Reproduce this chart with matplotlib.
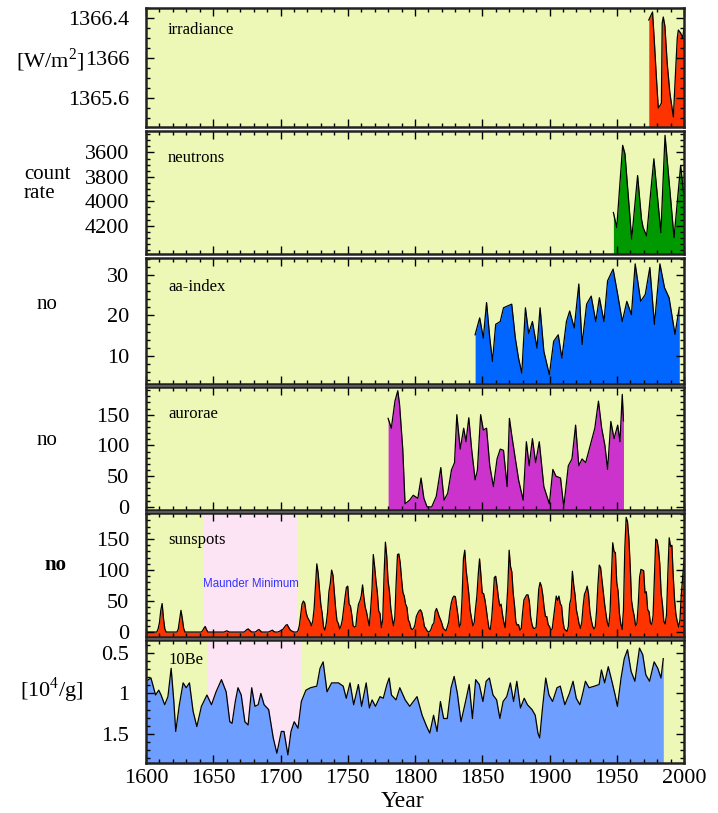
import matplotlib
matplotlib.use("Agg")
import matplotlib.pyplot as plt
from matplotlib.ticker import MultipleLocator, FixedLocator

plt.rcParams["font.family"] = ["Liberation Serif", "DejaVu Serif"]

# --- solar irradiance [W/m^2] ---
irr_years = [1973.8, 1976.6, 1977.8, 1979.5, 1980.9, 1982.0, 1983.2, 1983.8, 1984.6,
             1985.8, 1987.5, 1989.5, 1992.1, 1993.5, 1995.0, 1995.8, 1997.5, 1999.0, 2000.0]
irr_vals = [1366.38, 1366.46, 1366.20, 1365.80, 1365.50, 1365.52, 1365.55, 1366.35, 1366.41,
            1366.32, 1365.95, 1365.65, 1365.41, 1365.80, 1366.20, 1366.28, 1366.25, 1366.20, 1366.30]

# --- neutron monitor count rate ---
neu_years = [1947.5, 1950.0, 1954.4, 1956.1, 1961.1, 1965.5, 1968.4, 1969.6, 1972.2,
             1977.6, 1982.8, 1985.9, 1992.6, 1997.5, 2000.0]
neu_vals = [4091, 4214, 3542, 3611, 4309, 3789, 4145, 4214, 4282,
            3652, 4255, 3460, 4296, 3707, 3967]

# --- aa-index ---
aa_years = [1844.7, 1848.1, 1850.8, 1853.2, 1855.6, 1857.6, 1860.0, 1863.4, 1865.8, 1868.5,
            1871.9, 1874.6, 1877.0, 1879.4, 1882.1, 1884.5, 1887.3, 1890.7, 1893.0, 1895.8,
            1899.9, 1903.1, 1906.5, 1909.2, 1912.6, 1915.0, 1918.4, 1921.8, 1924.2, 1927.6,
            1931.0, 1934.4, 1937.1, 1940.5, 1943.2, 1947.3, 1950.7, 1954.1, 1957.5, 1960.9,
            1963.7, 1967.8, 1971.2, 1974.6, 1978.0, 1982.1, 1985.5, 1988.9, 1993.3, 1996.5]
aa_vals = [15.2, 19.4, 14.4, 23.2, 14.4, 8.6, 17.8, 18.5, 21.9, 22.3,
           22.8, 14.4, 9.4, 5.7, 21.9, 15.5, 18.5, 11.9, 21.9, 11.1,
           5.3, 13.6, 15.2, 9.4, 18.5, 21.1, 16.9, 27.8, 12.8, 22.8,
           24.8, 18.5, 24.4, 18.5, 28.6, 31.5, 25.2, 18.5, 23.5, 20.2,
           32.8, 23.5, 25.2, 31.9, 17.8, 32.8, 26.9, 24.4, 15.3, 22.0]

# --- aurorae (number per year) ---
aur_years = [1780.0, 1782.4, 1785.1, 1787.2, 1788.5, 1790.9, 1792.6, 1796.0, 1798.7, 1802.1,
             1804.5, 1806.6, 1809.0, 1812.4, 1815.8, 1819.2, 1821.6, 1824.3, 1827.1, 1829.4,
             1831.1, 1833.6, 1836.2, 1837.9, 1840.0, 1842.1, 1844.7, 1846.4, 1848.8, 1850.8,
             1853.2, 1855.6, 1858.3, 1861.0, 1863.4, 1865.8, 1868.5, 1870.2, 1871.9, 1874.6,
             1877.0, 1880.4, 1882.8, 1884.9, 1887.3, 1889.7, 1892.4, 1895.8, 1899.9, 1902.5,
             1904.8, 1908.2, 1910.6, 1914.0, 1916.7, 1919.4, 1921.8, 1924.2, 1926.9, 1930.3,
             1933.7, 1936.4, 1938.8, 1941.2, 1943.2, 1945.6, 1948.0, 1950.7, 1952.4, 1954.1,
             1955.0]
aur_vals = [144, 128, 172, 189, 167, 94, 5, 11, 19, 14,
            47, 14, 0, 0, 17, 64, 11, 22, 60, 72,
            150, 94, 128, 106, 145, 94, 44, 60, 150, 125,
            128, 67, 33, 78, 94, 92, 33, 144, 117, 78,
            44, 11, 106, 67, 111, 72, 106, 33, 5, 61,
            50, 47, 0, 67, 78, 133, 67, 78, 72, 100,
            128, 172, 128, 100, 61, 139, 111, 133, 106, 183,
            140]

# --- annual sunspot number, 1600-2000 ---
ssn_start = 1600
ssn_vals = [
    0, 0, 0, 0, 0, 0, 0, 0, 0, 5,
    15, 35, 46, 22, 5, 0, 0, 0, 0, 0,
    0, 0, 0, 0, 5, 20, 35, 22, 6, 0,
    0, 0, 0, 0, 0, 0, 0, 0, 0, 0,
    0, 0, 2, 6, 9, 4, 0, 0, 0, 0,
    0, 0, 0, 0, 0, 0, 0, 0, 0, 1,
    2, 1, 0, 0, 0, 0, 0, 0, 0, 0,
    0, 0, 0, 0, 2, 4, 5, 3, 1, 0,
    0, 0, 1, 3, 4, 2, 0, 0, 0, 0,
    0, 0, 1, 2, 3, 1, 0, 0, 0, 1,
    2, 3, 5, 8, 11, 12, 8, 4, 2, 1,
    0, 0, 0, 2, 10, 28, 45, 50, 47, 32,
    24, 20, 16, 10, 18, 38, 75, 110, 95, 68,
    44, 30, 8, 3, 14, 32, 65, 78, 100, 92,
    66, 38, 18, 14, 5, 10, 20, 38, 56, 72,
    74, 45, 42, 28, 10, 8, 9, 30, 45, 50,
    58, 76, 56, 40, 32, 20, 10, 36, 68, 125,
    105, 82, 64, 34, 30, 7, 20, 92, 145, 122,
    82, 66, 38, 22, 10, 24, 80, 125, 126, 112,
    86, 64, 58, 45, 40, 20, 15, 6, 4, 6,
    12, 25, 30, 34, 36, 32, 22, 9, 6, 2,
    0, 1, 5, 12, 14, 33, 38, 32, 25, 20,
    14, 6, 4, 2, 8, 16, 34, 47, 55, 58,
    57, 42, 26, 8, 13, 55, 118, 132, 100, 82,
    62, 35, 23, 10, 15, 38, 58, 92, 118, 92,
    63, 62, 52, 37, 20, 6, 4, 22, 52, 88,
    90, 74, 56, 42, 45, 29, 16, 7, 36, 72,
    132, 106, 97, 63, 43, 16, 11, 12, 3, 6,
    31, 52, 56, 60, 60, 50, 24, 12, 6, 6,
    7, 34, 69, 80, 74, 60, 40, 25, 25, 12,
    9, 3, 5, 23, 40, 58, 51, 58, 46, 42,
    18, 5, 3, 1, 9, 45, 54, 98, 76, 60,
    36, 25, 13, 6, 16, 42, 61, 66, 74, 62,
    34, 20, 10, 5, 8, 34, 76, 108, 104, 84,
    64, 45, 29, 15, 9, 32, 88, 144, 130, 128,
    80, 66, 30, 13, 4, 36, 135, 185, 178, 152,
    107, 51, 36, 26, 10, 14, 45, 89, 101, 100,
    99, 63, 65, 36, 33, 15, 12, 26, 88, 150,
    148, 134, 110, 63, 44, 17, 13, 28, 95, 152,
    138, 140, 90, 52, 28, 17, 8, 20, 61, 89,
    115,
]
ssn_years = [ssn_start + i for i in range(len(ssn_vals))]

# --- 10Be concentration [10^4/g] ---
be_years = [1600.0, 1603.7, 1607.1, 1609.5, 1611.2, 1613.9, 1616.3, 1618.7, 1620.7, 1622.1,
            1624.8, 1627.6, 1629.9, 1632.3, 1635.0, 1637.8, 1641.2, 1645.3, 1648.7, 1652.1,
            1656.1, 1659.6, 1662.3, 1664.0, 1666.4, 1668.4, 1670.8, 1673.5, 1675.9, 1678.6,
            1681.0, 1683.4, 1685.4, 1687.8, 1691.2, 1694.6, 1697.3, 1700.6, 1702.6, 1705.5,
            1707.8, 1710.2, 1713.0, 1715.5, 1718.9, 1722.3, 1727.0, 1729.4, 1731.7, 1734.6,
            1738.0, 1743.1, 1746.6, 1748.9, 1751.7, 1754.4, 1757.9, 1760.3, 1763.7, 1766.1,
            1768.1, 1770.6, 1774.0, 1776.4, 1779.1, 1780.8, 1782.5, 1785.9, 1788.7, 1792.7,
            1796.1, 1801.5, 1805.3, 1808.7, 1811.0, 1813.8, 1816.4, 1818.9, 1821.3, 1824.0,
            1826.8, 1829.1, 1831.5, 1834.2, 1837.6, 1840.3, 1842.7, 1845.1, 1847.8, 1850.5,
            1852.9, 1855.3, 1858.0, 1860.7, 1863.1, 1865.5, 1868.2, 1870.9, 1873.3, 1875.7,
            1878.4, 1881.2, 1883.6, 1887.0, 1889.4, 1891.4, 1892.7, 1894.8, 1897.2, 1899.6,
            1902.3, 1905.6, 1908.0, 1911.4, 1914.8, 1917.5, 1919.9, 1922.6, 1925.0, 1926.7,
            1929.4, 1933.5, 1936.9, 1938.6, 1941.0, 1943.7, 1946.4, 1948.8, 1950.5, 1953.2,
            1955.6, 1958.0, 1960.7, 1963.5, 1966.9, 1969.3, 1971.6, 1974.4, 1977.8, 1980.5,
            1982.9, 1984.6]
be_vals = [0.85, 0.81, 1.02, 0.96, 1.02, 1.14, 1.04, 0.69, 1.10, 1.47,
           1.14, 0.87, 0.93, 0.87, 1.22, 1.41, 1.16, 1.02, 1.14, 0.98,
           0.83, 0.98, 1.35, 1.37, 1.10, 0.93, 1.02, 1.35, 1.39, 0.93,
           1.16, 1.14, 1.00, 1.14, 1.20, 1.55, 1.74, 1.47, 1.47, 1.76,
           1.47, 1.35, 1.43, 1.10, 0.96, 0.93, 0.91, 0.69, 0.61, 0.98,
           0.87, 0.87, 0.91, 1.06, 0.87, 1.14, 0.89, 1.16, 0.87, 1.18,
           1.08, 1.16, 1.04, 1.06, 0.89, 0.81, 1.02, 1.08, 0.93, 1.08,
           1.16, 1.04, 1.27, 1.41, 1.49, 1.27, 1.47, 1.10, 1.31, 1.31,
           0.93, 0.79, 1.00, 1.35, 1.10, 0.89, 1.31, 0.83, 0.89, 1.10,
           0.85, 0.81, 1.02, 1.08, 1.31, 1.10, 1.04, 0.87, 1.10, 0.85,
           1.18, 1.06, 1.14, 1.20, 1.27, 1.49, 1.55, 1.18, 0.81, 1.02,
           1.10, 0.93, 0.91, 1.14, 1.00, 0.85, 1.06, 1.14, 0.98, 0.85,
           0.93, 0.91, 0.89, 0.71, 0.87, 0.67, 0.85, 1.02, 1.16, 0.81,
           0.57, 0.46, 0.73, 0.85, 0.44, 0.52, 0.77, 0.85, 0.61, 0.69,
           0.81, 0.57]

maunder_ssn = (1643, 1713)
maunder_be = (1645, 1716)

BG = "#eef8b6"
PINK = "#fce4f5"
TICK_FS = 16

fig = plt.figure(figsize=(7.18, 8.13), dpi=100)
W, H = 718.0, 813.0
x0, x1 = 146, 684
rows = [(8, 127), (131, 254), (258, 384), (387, 510), (513, 637), (640, 763)]
axes = []
for top, bot in rows:
    ax = fig.add_axes([x0 / W, 1 - bot / H, (x1 - x0) / W, (bot - top) / H])
    ax.set_facecolor(BG)
    ax.set_xlim(1600, 2000)
    ax.xaxis.set_major_locator(MultipleLocator(50))
    ax.xaxis.set_minor_locator(MultipleLocator(10))
    ax.tick_params(which="both", direction="in", top=True, right=True,
                   labelsize=TICK_FS, width=1.0, colors="black")
    ax.tick_params(which="major", length=6)
    ax.tick_params(which="minor", length=3)
    ax.tick_params(axis="y", pad=12)
    ax.tick_params(axis="x", labelbottom=False, pad=4)
    for s in ax.spines.values():
        s.set_linewidth(1.8)
        s.set_color("#222222")
    axes.append(ax)

def draw(ax, xs, ys, base, color):
    ax.fill_between(xs, ys, base, color=color, lw=0)
    ax.plot(xs, ys, color="black", lw=0.9)

def tag(ax, y, s):
    ax.text(0.041, y, s, transform=ax.transAxes, fontsize=12, va="center")

# irradiance
ax = axes[0]
ax.set_ylim(1365.31, 1366.5)
draw(ax, irr_years, irr_vals, 1365.31, "#ff3300")
ax.yaxis.set_major_locator(FixedLocator([1365.6, 1366.0, 1366.4]))
ax.set_yticklabels(["1365.6", "1366", "1366.4"])
ax.yaxis.set_minor_locator(MultipleLocator(0.1))
tag(ax, 0.815, "irradiance")

# neutrons (inverted count rate)
ax = axes[1]
ax.set_ylim(4430, 3425)
draw(ax, neu_years, neu_vals, 4430, "#009900")
ax.yaxis.set_major_locator(FixedLocator([3600, 3800, 4000, 4200]))
ax.yaxis.set_minor_locator(MultipleLocator(50))
tag(ax, 0.78, "neutrons")

# aa-index
ax = axes[2]
ax.set_ylim(3, 34.25)
draw(ax, aa_years, aa_vals, 3, "#0066ff")
ax.yaxis.set_major_locator(FixedLocator([10, 20, 30]))
ax.yaxis.set_minor_locator(MultipleLocator(2))
tag(ax, 0.77, "aa-index")

# aurorae
ax = axes[3]
ax.set_ylim(-5, 195)
draw(ax, aur_years, aur_vals, -5, "#cc33cc")
ax.yaxis.set_major_locator(FixedLocator([0, 50, 100, 150]))
ax.yaxis.set_minor_locator(MultipleLocator(10))
tag(ax, 0.78, "aurorae")

# sunspots
ax = axes[4]
ax.set_ylim(-8, 192)
ax.axvspan(*maunder_ssn, color=PINK, lw=0)
draw(ax, ssn_years, ssn_vals, -8, "#ff3300")
ax.yaxis.set_major_locator(FixedLocator([0, 50, 100, 150]))
ax.yaxis.set_minor_locator(MultipleLocator(10))
tag(ax, 0.78, "sunspots")
ax.text(sum(maunder_ssn) / 2, 78, "Maunder Minimum", color="#3333ff", fontsize=8.3,
        ha="center", va="center", family=["Liberation Sans", "DejaVu Sans"])

# 10Be (inverted)
ax = axes[5]
ax.set_ylim(1.86, 0.34)
ax.axvspan(*maunder_be, color=PINK, lw=0)
draw(ax, be_years, be_vals, 1.86, "#6e9eff")
ax.yaxis.set_major_locator(FixedLocator([0.5, 1.0, 1.5]))
ax.set_yticklabels(["0.5", "1", "1.5"])
ax.yaxis.set_minor_locator(MultipleLocator(0.1))
tag(ax, 0.84, "10Be")
ax.tick_params(axis="x", labelbottom=True)

fig.text(402 / W, 1 - 801 / H, "Year", fontsize=17, ha="center", va="center")

# left-hand unit labels
fig.text(16 / W, 1 - 60 / H, "[W/m$^{\\mathregular{2}}$]", fontsize=16, va="center")
fig.text(24 / W, 1 - 184 / H, "count\nrate", fontsize=15, va="center", linespacing=1.05)
fig.text(37 / W, 1 - 304 / H, "no", fontsize=15, va="center")
fig.text(37 / W, 1 - 440 / H, "no", fontsize=15, va="center")
fig.text(44 / W, 1 - 565 / H, "no", fontsize=15, va="center", fontweight="bold")
fig.text(20 / W, 1 - 690 / H, "[10$^{\\mathregular{4}}$/g]", fontsize=16, va="center")

fig.savefig("out.png", dpi=100)
